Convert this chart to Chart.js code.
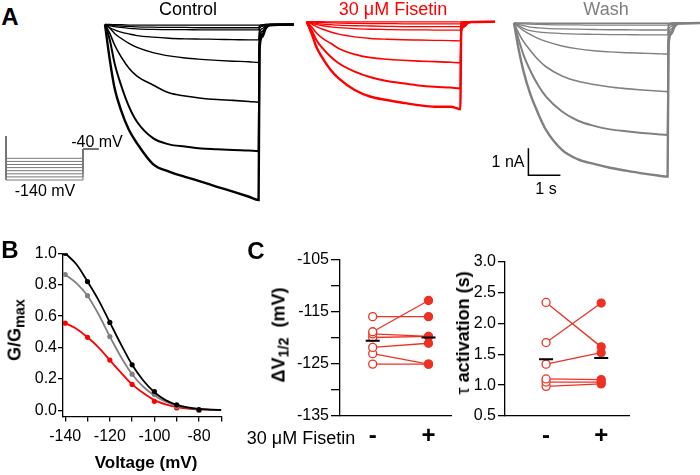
<!DOCTYPE html>
<html>
<head>
<meta charset="utf-8">
<script src="https://cdn.jsdelivr.net/npm/chart.js@4.4.1/dist/chart.umd.min.js"></script>
<style>
body { margin: 0; background: #fff; }
#wrap { position: relative; width: 700px; height: 475px; overflow: hidden; font-family: 'Liberation Sans', Arial, sans-serif; color: #000; }
canvas { position: absolute; }
.t { position: absolute; transform: translate(-50%, -50%); white-space: nowrap; line-height: 1; }
.rot { transform: translate(-50%, -50%) rotate(-90deg); }
.b { font-weight: bold; }
sub { font-size: 0.8em; vertical-align: -0.25em; }
</style>
</head>
<body>
<div id="wrap">
  <canvas id="proto" width="110" height="75" style="left:0;top:125px"></canvas>
  <canvas id="ctrl" width="195" height="205" style="left:100px;top:10px"></canvas>
  <canvas id="fis" width="195" height="205" style="left:300px;top:10px"></canvas>
  <canvas id="wash" width="195" height="205" style="left:505px;top:10px"></canvas>
  <canvas id="gB" width="240" height="237" style="left:0;top:238px"></canvas>
  <canvas id="gC1" width="170" height="230" style="left:290px;top:245px"></canvas>
  <canvas id="gC2" width="230" height="230" style="left:470px;top:245px"></canvas>

  <div class="t b" style="left:10px;top:17px;font-size:24px">A</div>
  <div class="t b" style="left:10px;top:250px;font-size:24px">B</div>
  <div class="t b" style="left:256px;top:251px;font-size:24px">C</div>
  <div class="t" style="left:188px;top:9px;font-size:18px">Control</div>
  <div class="t" style="left:393px;top:9px;font-size:18px;color:#ff0000">30 &mu;M Fisetin</div>
  <div class="t" style="left:606px;top:9px;font-size:18px;color:#808080">Wash</div>
  <div class="t" style="left:97px;top:142px;font-size:16px">-40 mV</div>
  <div class="t" style="left:45px;top:191px;font-size:16px">-140 mV</div>
  <div class="t" style="left:508px;top:162px;font-size:16px">1 nA</div>
  <div class="t" style="left:546px;top:189px;font-size:16px">1 s</div>
  <div class="t b rot" style="left:16px;top:330px;font-size:18px">G/G<sub>max</sub></div>
  <div class="t b" style="left:146px;top:462px;font-size:17px">Voltage (mV)</div>
  <div class="t b rot" style="left:280px;top:335px;font-size:18px">&Delta;V<sub>1/2</sub>&nbsp; (mV)</div>
  <div class="t b rot" style="left:463px;top:333px;font-size:18px"><span style="font-weight:normal">&tau;</span> activation (s)</div>
  <div class="t" style="left:301px;top:438px;font-size:18px">30 &mu;M Fisetin</div>
</div>
<script>
// ---- panel A: voltage protocol (mV) ----
const protoHold = 0;
const protoSteps = [-140, -130, -120, -110, -100, -90, -80, -70];
const protoAfter = -40;

// ---- panel A: current traces (nA) sampled at these times (s) ----
const tA = [0, 0.15, 0.3, 0.5, 0.75, 1, 1.5, 2, 2.5, 3, 3.5, 4, 4.5, 4.8, 4.83, 4.92, 5.02, 5.15, 5.9];

const ctrlTraces = [
  [0, -1.31, -2.36, -3.17, -3.91, -4.40, -5.17, -5.45, -5.64, -5.82, -6.01, -6.19, -6.38, -6.5, -0.9, -0.45, -0.15, -0.03, 0],
  [0, -0.57, -1.44, -2.24, -3.04, -3.6, -4.21, -4.44, -4.52, -4.59, -4.62, -4.65, -4.67, -4.69, -0.7, -0.35, -0.12, -0.02, 0],
  [0, -0.33, -0.76, -1.19, -1.62, -1.91, -2.24, -2.53, -2.65, -2.73, -2.78, -2.81, -2.85, -2.88, -0.5, -0.25, -0.08, -0.01, 0],
  [0, -0.14, -0.33, -0.51, -0.7, -0.85, -1.04, -1.16, -1.24, -1.29, -1.33, -1.36, -1.38, -1.41, -0.3, -0.15, -0.05, 0, 0],
  [0, -0.12, -0.2, -0.28, -0.35, -0.41, -0.47, -0.51, -0.53, -0.54, -0.55, -0.56, -0.57, -0.57, -0.15, -0.07, -0.02, 0, 0],
  [0, -0.05, -0.08, -0.11, -0.14, -0.16, -0.18, -0.19, -0.19, -0.2, -0.2, -0.2, -0.2, -0.2, -0.08, -0.04, -0.01, 0, 0],
  [0, -0.02, -0.04, -0.06, -0.07, -0.09, -0.1, -0.11, -0.11, -0.12, -0.12, -0.12, -0.12, -0.12, -0.05, -0.02, 0, 0, 0],
  [0, 0, -0.01, -0.01, -0.02, -0.02, -0.02, -0.02, -0.02, -0.02, -0.02, -0.02, -0.02, -0.02, -0.02, -0.01, 0, 0, 0]
];

const fisTraces = [
  [0, -0.43, -0.93, -1.36, -1.79, -2.1, -2.53, -2.78, -2.9, -3.0, -3.09, -3.15, -3.15, -3.24, -0.35, -0.18, -0.06, -0.01, 0],
  [0, -0.31, -0.68, -0.99, -1.3, -1.54, -1.85, -2.06, -2.2, -2.28, -2.36, -2.41, -2.44, -2.47, -0.28, -0.14, -0.05, -0.01, 0],
  [0, -0.185, -0.41, -0.62, -0.8, -0.99, -1.21, -1.33, -1.39, -1.43, -1.46, -1.48, -1.5, -1.52, -0.2, -0.1, -0.03, 0, 0],
  [0, -0.085, -0.18, -0.28, -0.38, -0.46, -0.56, -0.62, -0.65, -0.67, -0.68, -0.69, -0.7, -0.71, -0.12, -0.06, -0.02, 0, 0],
  [0, -0.06, -0.1, -0.15, -0.19, -0.22, -0.26, -0.28, -0.29, -0.3, -0.3, -0.31, -0.31, -0.31, -0.07, -0.03, -0.01, 0, 0],
  [0, -0.03, -0.06, -0.09, -0.11, -0.13, -0.15, -0.16, -0.17, -0.18, -0.18, -0.18, -0.185, -0.185, -0.04, -0.02, -0.01, 0, 0],
  [0, -0.01, -0.02, -0.03, -0.04, -0.05, -0.06, -0.07, -0.07, -0.08, -0.08, -0.08, -0.08, -0.08, -0.02, -0.01, 0, 0, 0],
  [0, 0, 0, 0, -0.01, -0.01, -0.01, -0.01, -0.01, -0.01, -0.01, -0.01, -0.01, -0.01, -0.01, 0, 0, 0, 0]
];

const washTraces = [
  [0, -1.0, -1.8, -2.6, -3.34, -3.96, -4.7, -5.05, -5.22, -5.36, -5.47, -5.57, -5.65, -5.69, -0.8, -0.4, -0.13, -0.02, 0],
  [0, -0.63, -1.19, -1.74, -2.3, -2.73, -3.28, -3.62, -3.81, -3.94, -4.01, -4.07, -4.12, -4.15, -0.65, -0.32, -0.1, -0.02, 0],
  [0, -0.38, -0.69, -1.0, -1.35, -1.62, -1.96, -2.16, -2.28, -2.37, -2.43, -2.48, -2.52, -2.54, -0.45, -0.22, -0.07, -0.01, 0],
  [0, -0.15, -0.28, -0.42, -0.57, -0.68, -0.85, -0.96, -1.03, -1.07, -1.1, -1.12, -1.14, -1.15, -0.25, -0.12, -0.04, 0, 0],
  [0, -0.1, -0.2, -0.28, -0.33, -0.36, -0.39, -0.41, -0.42, -0.43, -0.43, -0.44, -0.44, -0.44, -0.12, -0.06, -0.02, 0, 0],
  [0, -0.06, -0.1, -0.15, -0.18, -0.2, -0.22, -0.23, -0.24, -0.25, -0.25, -0.26, -0.26, -0.26, -0.07, -0.03, -0.01, 0, 0],
  [0, -0.02, -0.03, -0.04, -0.05, -0.06, -0.07, -0.07, -0.08, -0.08, -0.08, -0.08, -0.08, -0.08, -0.03, -0.01, 0, 0, 0],
  [0, 0, 0, 0, -0.01, -0.01, -0.01, -0.01, -0.01, -0.01, -0.01, -0.01, -0.01, -0.01, -0.01, 0, 0, 0, 0]
];

// ---- panel B: G/Gmax ----
const volts = [-140, -130, -120, -110, -100, -90, -80];
const gCtrl = [1.0, 0.82, 0.56, 0.29, 0.12, 0.035, 0.005];
const gWash = [0.865, 0.73, 0.47, 0.23, 0.10, 0.025, 0.0];
const gFis = [0.555, 0.465, 0.32, 0.165, 0.057, 0.015, 0.0];
// fitted curves read every 5 mV
const fitVolts = [-140, -135, -130, -125, -120, -115, -110, -105, -100, -95, -90, -85, -80, -75, -70];
const fitCtrl = [1.0, 0.93, 0.82, 0.70, 0.56, 0.42, 0.29, 0.19, 0.115, 0.065, 0.035, 0.018, 0.009, 0.005, 0.002];
const fitWash = [0.865, 0.81, 0.73, 0.61, 0.47, 0.34, 0.23, 0.15, 0.095, 0.055, 0.03, 0.016, 0.008, 0.004, 0.002];
const fitFis = [0.555, 0.52, 0.465, 0.40, 0.32, 0.24, 0.165, 0.11, 0.065, 0.038, 0.02, 0.011, 0.006, 0.003, 0.001];
const vTicks = [-140, -130, -120, -110, -100, -90, -80, -70];
const vLabels = [-140, -120, -100, -80];
const gTicks = [0, 0.2, 0.4, 0.6, 0.8, 1.0];

// ---- panel C ----
const groupLabels = ['-', '+'];
const dvPre = [-116.0, -118.9, -119.3, -120.0, -121.9, -123.1, -125.1];
const dvPost = [-116.0, -112.9, -119.8, -119.8, -121.1, -125.1, -125.1];
const dvMean = [-120.6, -120.0];
const dvTicks = [-135, -130, -125, -120, -115, -110, -105];
const dvLabels = [-135, -125, -115, -105];
const tauPre = [2.34, 1.69, 1.34, 1.10, 1.05, 0.98];
const tauPost = [1.62, 2.33, 1.525, 1.09, 1.05, 1.02];
const tauMean = [1.42, 1.44];
const tauTicks = [0.5, 1.0, 1.5, 2.0, 2.5, 3.0];

const RED = '#ff0000';
const RED2 = '#ee3124';
const GRAY = '#808080';

Chart.defaults.font.family = "'Liberation Sans', Arial, sans-serif";
Chart.defaults.color = '#000';

const noLegend = { legend: { display: false }, tooltip: { enabled: false } };

// hidden axes, range chosen so that the canvas maps to the picture
function hiddenScales(xmin, xmax, ymin, ymax) {
    return {
        x: { type: 'linear', display: false, min: xmin, max: xmax },
        y: { type: 'linear', display: false, min: ymin, max: ymax }
    };
}

// x0/y0 = pixel of t=0, I=0 inside the canvas; 32 px per s, 27 px per nA
function traceChart(id, traces, color, x0, y0, extra) {
    const cv = document.getElementById(id);
    const widths = [2.4, 2.0, 1.6, 1.4, 1.3, 1.3, 1.3, 1.3];
    const sets = traces.map((tr, k) => ({
        data: tr.map((v, i) => ({ x: tA[i], y: v })),
        borderColor: color,
        borderWidth: widths[k],
        pointRadius: 0,
        cubicInterpolationMode: 'monotone'
    }));
    if (extra) sets.push(extra);
    new Chart(cv, {
        type: 'line',
        data: { datasets: sets },
        options: {
            responsive: false, animation: false,
            layout: { padding: 0 },
            plugins: noLegend,
            scales: hiddenScales(-x0 / 32, (cv.width - x0) / 32, -(cv.height - y0) / 27, y0 / 27)
        }
    });
}

traceChart('ctrl', ctrlTraces, '#000', 5, 14.5);
traceChart('fis', fisTraces, RED, 6.7, 11.7);
// scale bar: 1 nA by 1 s
traceChart('wash', washTraces, GRAY, 9, 13, {
    data: [{ x: 0.45, y: -4.64 }, { x: 0.45, y: -5.64 }, { x: 1.45, y: -5.64 }],
    borderColor: '#000', borderWidth: 1.5, pointRadius: 0, tension: 0
});

// protocol
new Chart(document.getElementById('proto'), {
    type: 'line',
    data: {
        datasets: protoSteps.map(v => ({
            data: [{ x: 0, y: protoHold }, { x: 0, y: v }, { x: 5, y: v }, { x: 5, y: protoAfter }, { x: 6, y: protoAfter }],
            borderColor: '#777', borderWidth: 1, pointRadius: 0, tension: 0
        }))
    },
    options: {
        responsive: false, animation: false, plugins: noLegend,
        scales: hiddenScales(-6 / 15.4, 104 / 15.4, -140 - 20 / 0.31, -140 + 55 / 0.31)
    }
});

const axisLine = { color: '#000', width: 1.3 };
function tickGrid(len) {
    return { drawOnChartArea: false, tickLength: len, color: '#000', lineWidth: 1.3 };
}

// ---- panel B chart ----
function pts(xs, ys) { return xs.map((x, i) => ({ x: x, y: ys[i] })); }
new Chart(document.getElementById('gB'), {
    type: 'line',
    data: {
        datasets: [
            { data: pts(volts, gCtrl), showLine: false, pointRadius: 2.6, pointBackgroundColor: '#000', pointBorderWidth: 0, order: 0 },
            { data: pts(volts, gWash), showLine: false, pointRadius: 2.6, pointBackgroundColor: GRAY, pointBorderWidth: 0, order: 2 },
            { data: pts(volts, gFis), showLine: false, pointRadius: 2.6, pointBackgroundColor: RED, pointBorderWidth: 0, order: 4 },
            { data: pts(fitVolts, fitCtrl), borderColor: '#000', borderWidth: 1.8, pointRadius: 0, cubicInterpolationMode: 'monotone', order: 1 },
            { data: pts(fitVolts, fitWash), borderColor: GRAY, borderWidth: 1.8, pointRadius: 0, cubicInterpolationMode: 'monotone', order: 3 },
            { data: pts(fitVolts, fitFis), borderColor: RED, borderWidth: 1.8, pointRadius: 0, cubicInterpolationMode: 'monotone', order: 5 }
        ]
    },
    options: {
        responsive: false, animation: false, plugins: noLegend,
        layout: { padding: { top: 15.3, right: 18.7, left: 0, bottom: 0 } },
        scales: {
            x: {
                type: 'linear', min: -141, max: -70,
                afterBuildTicks: s => { s.ticks = vTicks.map(v => ({ value: v })); },
                afterFit: s => { s.height = 58.4; },
                ticks: { autoSkip: false, maxRotation: 0, padding: 5, font: { size: 16 }, callback: v => vLabels.includes(v) ? String(v) : '' },
                grid: tickGrid(5), border: axisLine
            },
            y: {
                type: 'linear', min: -0.04, max: 1.0,
                afterBuildTicks: s => { s.ticks = gTicks.map(v => ({ value: v })); },
                afterFit: s => { s.width = 63; },
                ticks: { autoSkip: false, padding: 1, font: { size: 16 }, callback: v => v.toFixed(1) },
                grid: tickGrid(5), border: axisLine
            }
        }
    }
});

// ---- panel C charts ----
function pairSets(pre, post, mean) {
    const sets = pre.map((v, i) => ({
        data: [{ x: 0, y: v }, { x: 1, y: post[i] }],
        borderColor: RED2, borderWidth: 1.3,
        pointRadius: 4, pointBorderWidth: 1.3, pointBorderColor: RED2,
        pointBackgroundColor: ['#fff', RED2], tension: 0, order: 1
    }));
    sets.push({
        data: [{ x: 0, y: mean[0] }, { x: 1, y: mean[1] }],
        showLine: false, pointStyle: 'line', pointRadius: 7,
        pointBorderWidth: 2, pointBorderColor: '#000', order: 0
    });
    return sets;
}

function pairChart(id, pre, post, mean, o) {
    new Chart(document.getElementById(id), {
        type: 'line',
        data: { datasets: pairSets(pre, post, mean) },
        options: {
            responsive: false, animation: false, plugins: noLegend,
            layout: { padding: { top: o.top, right: o.right, left: 0, bottom: 0 } },
            scales: {
                x: {
                    type: 'linear', min: o.xmin, max: o.xmax,
                    afterBuildTicks: s => { s.ticks = [{ value: 0 }, { value: 1 }]; },
                    afterFit: s => { s.height = o.xh; },
                    ticks: { autoSkip: false, maxRotation: 0, padding: 6, font: { size: 24, weight: 'bold' }, callback: v => groupLabels[v] },
                    grid: { display: false, drawTicks: false }, border: axisLine
                },
                y: {
                    type: 'linear', min: o.ymin, max: o.ymax,
                    afterBuildTicks: s => { s.ticks = o.ticks.map(v => ({ value: v })); },
                    afterFit: s => { s.width = o.yw; },
                    ticks: { autoSkip: false, padding: 2, font: { size: 16 }, callback: o.label },
                    grid: tickGrid(o.tl), border: axisLine
                }
            }
        }
    });
}

pairChart('gC1', dvPre, dvPost, dvMean, {
    top: 14.3, right: 8, xh: 59.3, yw: 50, tl: 9,
    xmin: -0.586, xmax: 1.403, ymin: -135, ymax: -105, ticks: dvTicks,
    label: v => dvLabels.includes(v) ? String(v) : ''
});
pairChart('gC2', tauPre, tauPost, tauMean, {
    top: 16.7, right: 70.7, xh: 59, yw: 35, tl: 7,
    xmin: -0.745, xmax: 1.51, ymin: 0.5, ymax: 3.0, ticks: tauTicks,
    label: v => v.toFixed(1)
});
</script>
</body>
</html>
